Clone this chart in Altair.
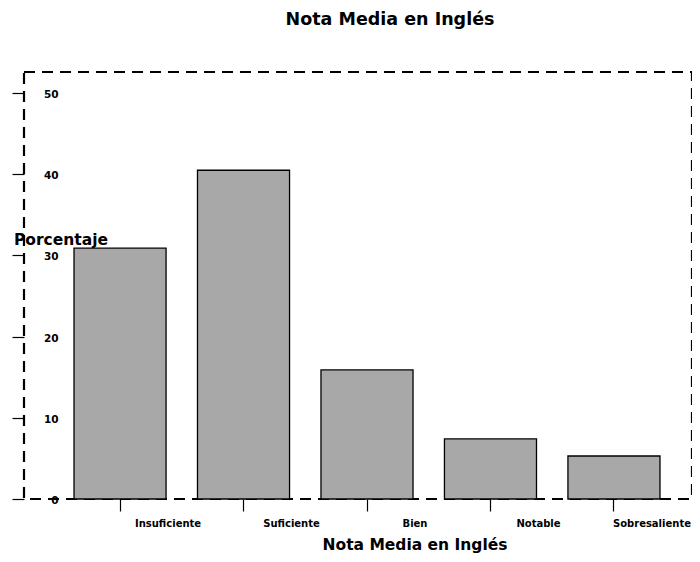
import altair as alt
import pandas as pd

categories = ["Insuficiente", "Suficiente", "Bien", "Notable", "Sobresaliente"]
percentages = [30.9, 40.5, 15.9, 7.4, 5.3]
y_ticks = [0, 10, 20, 30, 40, 50]

df = pd.DataFrame({"nota": categories, "porcentaje": percentages})

FONT = "DejaVu Sans"

chart = alt.Chart(df).mark_bar(
    fill="#a8a8a8", stroke="black", strokeWidth=1.3
).encode(
    x=alt.X(
        "nota:N",
        sort=categories,
        scale=alt.Scale(paddingInner=0.2545, paddingOuter=0.405, range=[0, 686]),
        axis=alt.Axis(
            title="Nota Media en Inglés",
            titleFont=FONT, titleFontSize=15.5, titleFontWeight="bold", titleColor="black",
            titleX=390.5, titleY=50, titleBaseline="alphabetic", titleAlign="center",
            labelFont=FONT, labelFontSize=10, labelFontWeight="bold", labelColor="black",
            labelAngle=0,
            labelOffset={"condition": {"test": "datum.value === 'Sobresaliente'", "value": 38}, "value": 48},
            labelBaseline="alphabetic", labelPadding=15,
            labelOverlap=False, labelFlush=False, labelBound=False,
            tickSize=12, tickColor="black", tickWidth=1.2,
            domain=False, grid=False,
        ),
    ),
    y=alt.Y(
        "porcentaje:Q",
        scale=alt.Scale(domain=[0, 52.6], nice=False, zero=True),
        axis=alt.Axis(
            values=y_ticks,
            title="Porcentaje",
            titleFont=FONT, titleFontSize=15.5, titleFontWeight="bold", titleColor="black",
            titleAngle=0, titleX=36.5, titleY=167, titleAlign="center", titleBaseline="middle",
            labelFont=FONT, labelFontSize=10.5, labelFontWeight="bold", labelColor="black",
            labelAlign="right", labelBaseline="middle", labelPadding=-46, labelOffset=1.5,
            labelOverlap=False, labelFlush=False, labelBound=False,
            tickSize=12, tickColor="black", tickWidth=1.2,
            domain=False, grid=False,
        ),
    ),
).properties(
    width=668,
    height=427,
    title=alt.TitleParams(
        text="Nota Media en Inglés",
        font=FONT, fontSize=17.5, fontWeight="bold", color="black",
        anchor="middle", dx=32, offset=29.5, baseline="alphabetic",
    ),
    autosize=alt.AutoSizeParams(type="none"),
    padding={"left": 16, "top": 64, "right": 0, "bottom": 54},
).configure_view(
    stroke="black", strokeDash=[11, 7], strokeWidth=2.2
)

chart.save("out.html", embed_options={"renderer": "svg", "actions": False})
